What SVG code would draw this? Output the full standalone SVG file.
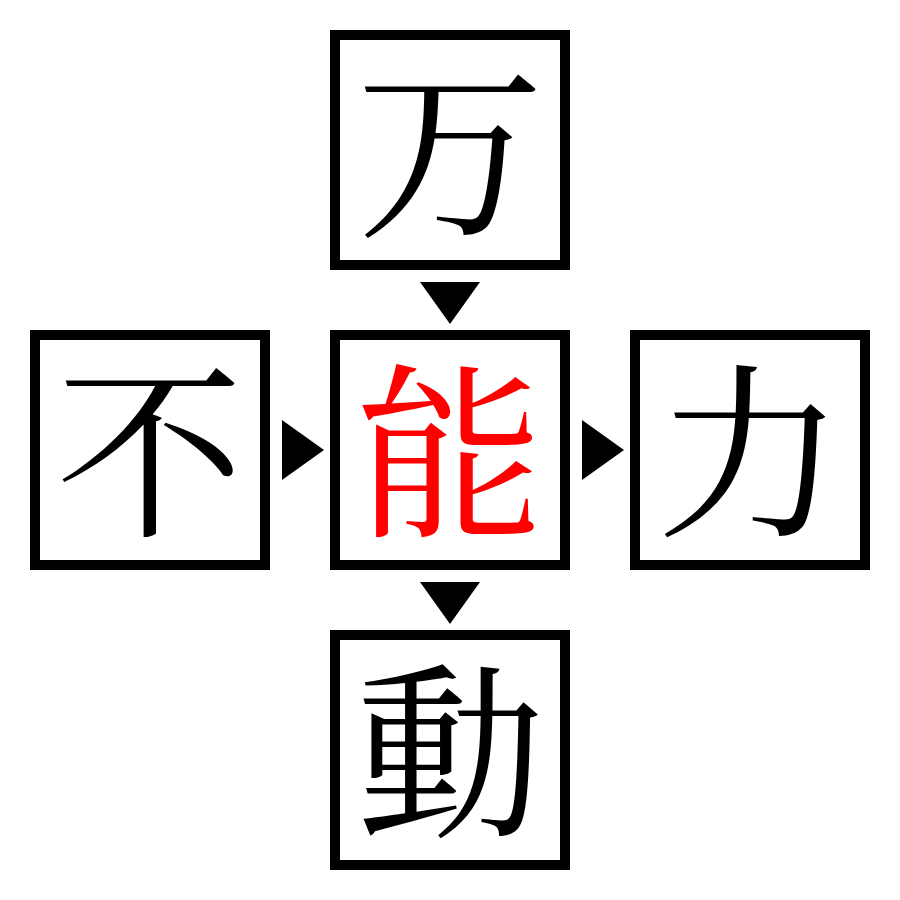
<svg xmlns="http://www.w3.org/2000/svg" width="900" height="900" viewBox="0 0 900 900">
<style>
.box{fill:#fff;stroke:#000;stroke-width:10}
.ch{font-family:"Noto Serif CJK JP","Noto Serif CJK SC","Noto Sans CJK JP",serif;font-size:188px;text-anchor:middle;dominant-baseline:central;fill:#000}
.hl{fill:#ff0000}
.arr{fill:#000}
</style>
<rect width="900" height="900" fill="#fff"/>
<g id="connectors">
<polygon class="arr" points="420,282 480,282 450,324"/>
<polygon class="arr" points="282,420 282,480 324,450"/>
<polygon class="arr" points="582,420 582,480 624,450"/>
<polygon class="arr" points="420,582 480,582 450,624"/>
</g>
<g id="node-top"><rect class="box" x="335" y="35" width="230" height="230"/><text class="ch" x="450" y="141">万</text></g>
<g id="node-left"><rect class="box" x="35" y="335" width="230" height="230"/><text class="ch" x="150" y="441">不</text></g>
<g id="node-center"><rect class="box" x="335" y="335" width="230" height="230"/><text class="ch hl" x="450" y="441">能</text></g>
<g id="node-right"><rect class="box" x="635" y="335" width="230" height="230"/><text class="ch" x="750" y="441">力</text></g>
<g id="node-bottom"><rect class="box" x="335" y="635" width="230" height="230"/><text class="ch" x="450" y="741">動</text></g>
</svg>
